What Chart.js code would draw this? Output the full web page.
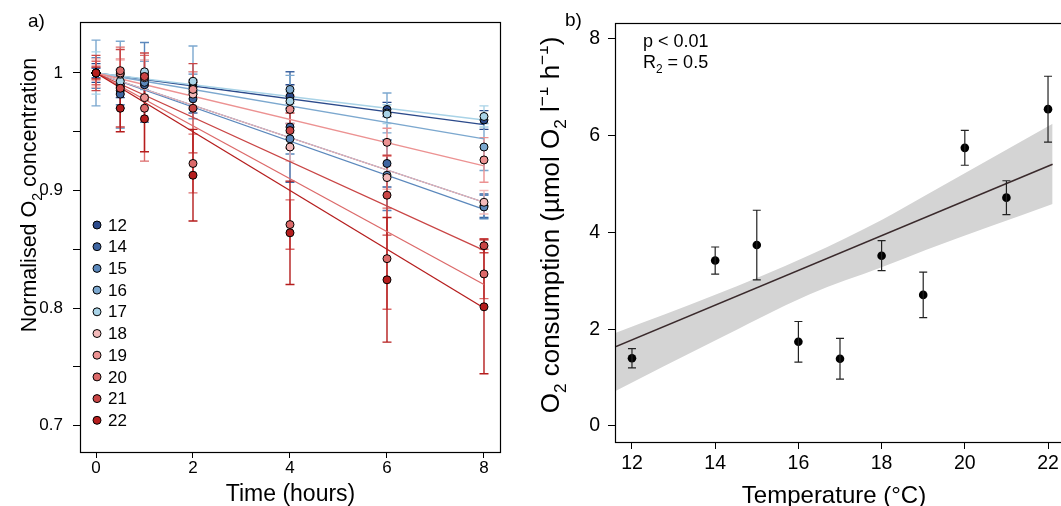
<!DOCTYPE html>
<html><head><meta charset="utf-8">
<script src="https://cdn.jsdelivr.net/npm/chart.js@4.4.1/dist/chart.umd.min.js"></script>
<style>
html,body{margin:0;padding:0;background:#fff;overflow:hidden;width:1061px;height:506px;position:relative;}
#ca{position:absolute;left:0;top:0;width:545px;height:506px;}
#cb{position:absolute;left:540px;top:0;width:540px;height:506px;}
</style></head><body>
<canvas id="ca" width="545" height="506"></canvas>
<canvas id="cb" width="540" height="506"></canvas>
<script>
// ---------- DATA: panel a ----------
const hours = [0, 0.5, 1, 2, 4, 6, 8];
const temps = [12, 14, 15, 16, 17, 18, 19, 20, 21, 22];
const tempColors = ['#2b4a8b','#3e65a1','#5b88bc','#7ca8cf','#a9d3e7','#f3baba','#ec9292','#dc6a6a','#c94545','#b51d1d'];

const o2_12 = [1.000, 0.985, 0.995, 0.988, 0.980, 0.969, 0.960];
const o2_14 = [1.000, 0.982, 0.990, 0.978, 0.954, 0.923, 0.887];
const o2_15 = [1.000, 0.988, 0.992, 0.984, 0.944, 0.913, 0.886];
const o2_16 = [1.000, 0.990, 0.998, 0.992, 0.986, 0.966, 0.937];
const o2_17 = [1.000, 0.993, 1.001, 0.993, 0.976, 0.965, 0.963];
const o2_18 = [1.000, 0.999, 0.996, 0.982, 0.937, 0.911, 0.890];
const o2_19 = [1.000, 1.000, 0.979, 0.986, 0.969, 0.941, 0.926];
const o2_20 = [1.000, 1.002, 0.970, 0.923, 0.871, 0.842, 0.829];
const o2_21 = [1.000, 0.987, 0.997, 0.970, 0.951, 0.896, 0.853];
const o2_22 = [1.000, 0.970, 0.961, 0.913, 0.864, 0.824, 0.801];

const sd_12 = [0.008, 0.006, 0.005, 0.006, 0.010, 0.006, 0.008];
const sd_14 = [0.004, 0.012, 0.010, 0.012, 0.047, 0.020, 0.010];
const sd_15 = [0.013, 0.015, 0.034, 0.015, 0.013, 0.030, 0.010];
const sd_16 = [0.028, 0.037, 0.012, 0.031, 0.012, 0.017, 0.020];
const sd_17 = [0.018, 0.010, 0.010, 0.008, 0.008, 0.008, 0.009];
const sd_18 = [0.012, 0.012, 0.015, 0.010, 0.012, 0.010, 0.010];
const sd_19 = [0.006, 0.012, 0.020, 0.015, 0.012, 0.012, 0.019];
const sd_20 = [0.010, 0.020, 0.045, 0.025, 0.021, 0.043, 0.021];
const sd_21 = [0.015, 0.033, 0.020, 0.038, 0.015, 0.034, 0.006];
const sd_22 = [0.005, 0.020, 0.028, 0.039, 0.044, 0.053, 0.057];

const fitIntercept = [1, 1, 1, 1, 1, 1, 1, 1, 1, 1];
const fitSlope = [-0.0055, -0.01375, -0.0145, -0.007, -0.005, -0.01375, -0.009875, -0.0225, -0.018875, -0.025];

const xTicksA = [0, 2, 4, 6, 8];
const xTickLabelsA = ['0', '2', '4', '6', '8'];
const yTicksA = [0.7, 0.75, 0.8, 0.85, 0.9, 0.95, 1.0];
const yTickLabelsA = ['0.7', '', '0.8', '', '0.9', '', '1'];

// ---------- DATA: panel b ----------
const tempB = [12, 14, 15, 16, 17, 18, 19, 20, 21, 22];
const consumption = [1.40, 3.42, 3.74, 1.74, 1.39, 3.52, 2.71, 5.75, 4.72, 6.55];
const consumptionErr = [0.20, 0.28, 0.72, 0.42, 0.42, 0.31, 0.47, 0.36, 0.35, 0.68];
const regIntercept = -2.528;
const regSlope = 0.359;
const regRange = [11.616, 22.11];
const bandT = [11.616, 13.94, 16.26, 18.0, 19.06, 22.11];
const bandUpper = [1.93, 2.69, 3.53, 4.26, 4.77, 6.25];
const bandLower = [0.73, 1.74, 2.72, 3.28, 3.64, 4.59];
const xTicksB = [12, 14, 16, 18, 20, 22];
const yTicksB = [0, 2, 4, 6, 8];

// ---------- helpers ----------
const FONT = "'Liberation Sans', Arial, Helvetica, sans-serif";
Chart.defaults.font.family = FONT;
Chart.defaults.color = '#000';

function drawRich(ctx, segs, x, y, size, align, rotate) {
  ctx.save();
  ctx.translate(x, y);
  if (rotate) ctx.rotate(-Math.PI / 2);
  const parts = segs.map(s => {
    const fs = (s.sub || s.sup) ? size * 0.66 : size;
    ctx.font = fs + 'px ' + FONT;
    return { s, fs, w: ctx.measureText(s.t).width };
  });
  const total = parts.reduce((a, p) => a + p.w, 0);
  let cx = align === 'center' ? -total / 2 : 0;
  ctx.fillStyle = '#000';
  ctx.textBaseline = 'alphabetic';
  ctx.textAlign = 'left';
  for (const p of parts) {
    ctx.font = p.fs + 'px ' + FONT;
    const dy = p.s.sub ? size * 0.28 : (p.s.sup ? -size * 0.42 : 0);
    ctx.fillText(p.s.t, cx, dy);
    cx += p.w;
  }
  ctx.restore();
}

function errorBars(chart, xs, ys, errs, color, width, cap) {
  const { ctx, scales: { x, y } } = chart;
  ctx.save();
  ctx.strokeStyle = color;
  ctx.lineWidth = width;
  xs.forEach((xv, j) => {
    const px = x.getPixelForValue(xv);
    const t = y.getPixelForValue(ys[j] + errs[j]);
    const b = y.getPixelForValue(ys[j] - errs[j]);
    ctx.beginPath();
    ctx.moveTo(px, t); ctx.lineTo(px, b);
    ctx.moveTo(px - cap, t); ctx.lineTo(px + cap, t);
    ctx.moveTo(px - cap, b); ctx.lineTo(px + cap, b);
    ctx.stroke();
  });
  ctx.restore();
}

function frame(chart) {
  const { ctx, chartArea: a } = chart;
  ctx.save();
  ctx.strokeStyle = '#000';
  ctx.lineWidth = 1.2;
  ctx.strokeRect(Math.round(a.left) - 0.5, Math.round(a.top) - 0.5, Math.round(a.right - a.left) + 1, Math.round(a.bottom - a.top) + 1);
  ctx.restore();
}

// ---------- chart a ----------
const o2Series = [o2_12, o2_14, o2_15, o2_16, o2_17, o2_18, o2_19, o2_20, o2_21, o2_22];
const sdSeries = [sd_12, sd_14, sd_15, sd_16, sd_17, sd_18, sd_19, sd_20, sd_21, sd_22];

const dsA = [];
temps.forEach((t, i) => {
  dsA.push({
    type: 'line', label: 'fit ' + t,
    data: [{ x: 0, y: fitIntercept[i] }, { x: 8, y: fitIntercept[i] + 8 * fitSlope[i] }],
    borderColor: tempColors[i], borderWidth: 1.3, pointRadius: 0, fill: false, order: 100 - i
  });
});
temps.forEach((t, i) => {
  dsA.push({
    type: 'scatter', label: String(t),
    data: hours.map((h, j) => ({ x: h, y: o2Series[i][j] })),
    backgroundColor: tempColors[i], borderColor: '#000', borderWidth: 1, pointRadius: 4, order: -i
  });
});

new Chart(document.getElementById('ca'), {
  type: 'scatter',
  data: { datasets: dsA },
  options: {
    responsive: false, animation: false, devicePixelRatio: 1, events: [],
    layout: { padding: { left: 0, top: 23, right: 45, bottom: 0 } },
    plugins: { legend: { display: false }, tooltip: { enabled: false } },
    scales: {
      x: {
        type: 'linear', position: 'bottom', min: -0.3093, max: 8.33,
        afterBuildTicks: s => { s.ticks = xTicksA.map(v => ({ value: v })); },
        afterFit: s => { s.height = 54; },
        grid: { display: true, drawOnChartArea: false, drawTicks: true, tickLength: 6, color: '#000' },
        border: { display: false },
        ticks: { font: { size: 17 }, color: '#000', padding: 0, maxRotation: 0, autoSkip: false,
                 callback: (v, i) => xTickLabelsA[i] }
      },
      y: {
        type: 'linear', position: 'left', min: 0.67745, max: 1.04255,
        afterBuildTicks: s => { s.ticks = yTicksA.map(v => ({ value: v })); },
        afterFit: s => { s.width = 81; },
        grid: { display: true, drawOnChartArea: false, drawTicks: true, tickLength: 8, color: '#000' },
        border: { display: false },
        ticks: { font: { size: 17 }, color: '#000', padding: 10, autoSkip: false,
                 callback: (v, i) => yTickLabelsA[i] }
      }
    }
  },
  plugins: [{
    id: 'extrasA',
    beforeDatasetsDraw(chart) {
      temps.forEach((t, i) => errorBars(chart, hours, o2Series[i], sdSeries[i], tempColors[i], 1.4, 4.5));
    },
    afterDraw(chart) {
      frame(chart);
      const ctx = chart.ctx;
      ctx.save();
      ctx.fillStyle = '#000';
      ctx.font = '19px ' + FONT;
      ctx.textAlign = 'left'; ctx.textBaseline = 'alphabetic';
      ctx.fillText('a)', 28, 27);
      // legend
      temps.forEach((t, i) => {
        const cy = 225 + i * 21.7;
        ctx.beginPath();
        ctx.arc(97, cy, 4, 0, Math.PI * 2);
        ctx.fillStyle = tempColors[i]; ctx.fill();
        ctx.strokeStyle = '#000'; ctx.lineWidth = 1; ctx.stroke();
        ctx.fillStyle = '#000';
        ctx.font = '17px ' + FONT;
        ctx.textBaseline = 'middle';
        ctx.fillText(String(t), 108, cy + 1);
      });
      ctx.restore();
      drawRich(ctx, [{ t: 'Normalised O' }, { t: '2', sub: true }, { t: ' concentration' }], 36, 195, 21.5, 'center', true);
      drawRich(ctx, [{ t: 'Time (hours)' }], 290.5, 501, 23, 'center', false);
    }
  }]
});

// ---------- chart b ----------
new Chart(document.getElementById('cb'), {
  type: 'scatter',
  data: {
    datasets: [
      { type: 'line', label: 'lower', data: bandT.map((t, i) => ({ x: t, y: bandLower[i] })),
        borderWidth: 0, pointRadius: 0, fill: false, cubicInterpolationMode: 'monotone', order: 10 },
      { type: 'line', label: 'upper', data: bandT.map((t, i) => ({ x: t, y: bandUpper[i] })),
        borderWidth: 0, pointRadius: 0, fill: '-1', backgroundColor: '#d4d4d4', cubicInterpolationMode: 'monotone', order: 9 },
      { type: 'line', label: 'fit', data: regRange.map(t => ({ x: t, y: regIntercept + regSlope * t })),
        borderColor: '#3a2a2c', borderWidth: 1.5, pointRadius: 0, fill: false, order: 5 },
      { type: 'scatter', label: 'O2', data: tempB.map((t, i) => ({ x: t, y: consumption[i] })),
        backgroundColor: '#000', borderColor: '#000', borderWidth: 0, pointRadius: 4.3, order: 0 }
    ]
  },
  options: {
    responsive: false, animation: false, devicePixelRatio: 1, events: [],
    layout: { padding: { left: 0, top: 24, right: 16, bottom: 0 } },
    plugins: { legend: { display: false }, tooltip: { enabled: false } },
    scales: {
      x: {
        type: 'linear', position: 'bottom', min: 11.616, max: 22.384,
        afterBuildTicks: s => { s.ticks = xTicksB.map(v => ({ value: v })); },
        afterFit: s => { s.height = 64; },
        grid: { display: true, drawOnChartArea: false, drawTicks: true, tickLength: 7, color: '#000' },
        border: { display: false },
        ticks: { font: { size: 19.5 }, color: '#000', padding: 3, maxRotation: 0, autoSkip: false,
                 callback: v => String(v) }
      },
      y: {
        type: 'linear', position: 'left', min: -0.331, max: 8.31,
        afterBuildTicks: s => { s.ticks = yTicksB.map(v => ({ value: v })); },
        afterFit: s => { s.width = 76; },
        grid: { display: true, drawOnChartArea: false, drawTicks: true, tickLength: 8, color: '#000' },
        border: { display: false },
        ticks: { font: { size: 19.5 }, color: '#000', padding: 8, autoSkip: false,
                 callback: v => String(v) }
      }
    }
  },
  plugins: [{
    id: 'extrasB',
    afterDatasetsDraw(chart) {
      errorBars(chart, tempB, consumption, consumptionErr, '#222', 1.2, 4);
    },
    afterDraw(chart) {
      frame(chart);
      const ctx = chart.ctx;
      ctx.save();
      ctx.fillStyle = '#000';
      ctx.font = '19px ' + FONT;
      ctx.textAlign = 'left'; ctx.textBaseline = 'alphabetic';
      ctx.fillText('b)', 25, 26);
      ctx.restore();
      drawRich(ctx, [{ t: 'p < 0.01' }], 103, 47, 18, 'left', false);
      drawRich(ctx, [{ t: 'R' }, { t: '2', sub: true }, { t: ' = 0.5' }], 103, 68, 18, 'left', false);
      drawRich(ctx, [{ t: 'O' }, { t: '2', sub: true }, { t: ' consumption (µmol O' }, { t: '2', sub: true },
                     { t: ' l' }, { t: '−1', sup: true }, { t: ' h' }, { t: '−1', sup: true }, { t: ')' }],
               19, 225, 26, 'center', true);
      drawRich(ctx, [{ t: 'Temperature (°C)' }], 294, 503, 24, 'center', false);
    }
  }]
});
</script>
</body></html>
